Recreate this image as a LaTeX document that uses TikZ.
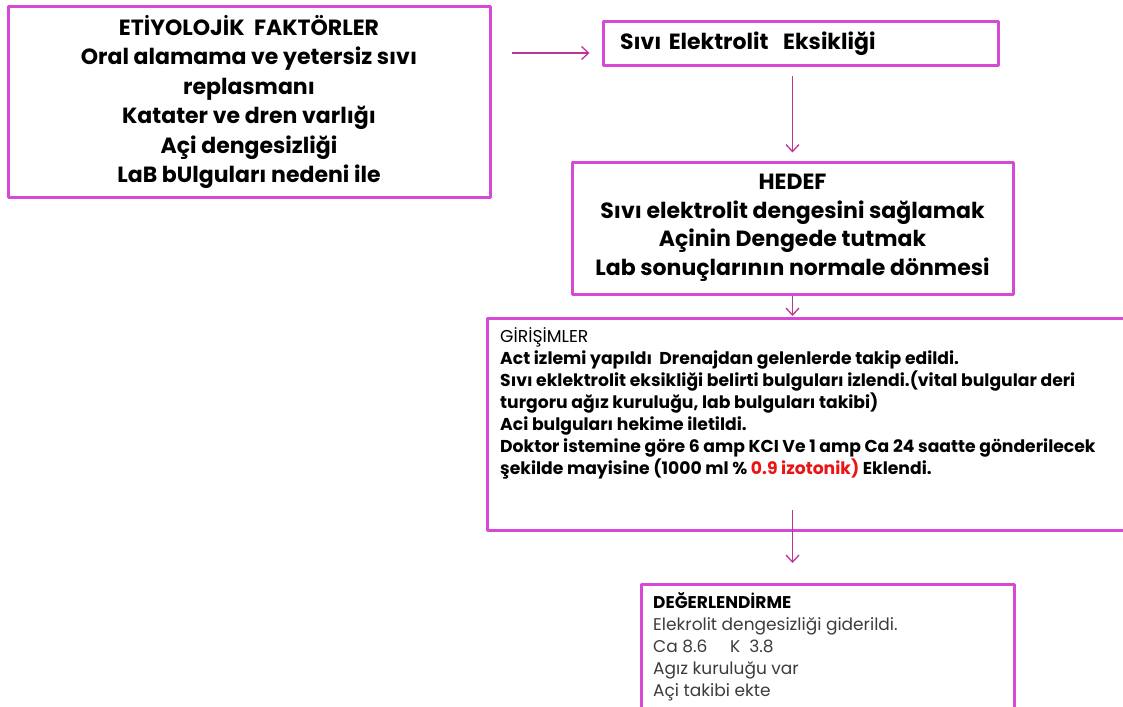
\documentclass[tikz,border=0pt]{standalone}
\usepackage{fontspec}
\setmainfont{Poppins}
\usepackage{tikz}
\usetikzlibrary{arrows.meta,positioning,calc}

\definecolor{framepink}{RGB}{214,72,214}
\definecolor{arrowpink}{RGB}{192,52,150}
\definecolor{notered}{RGB}{235,20,20}
\definecolor{evalgray}{RGB}{60,60,60}

\begin{document}
\begin{tikzpicture}[x=1pt,y=-1pt,>={Straight Barb[length=7pt,width=13pt]},
                    line join=round]
  \tikzstyle{frame}=[draw=framepink,line width=3pt,rectangle,inner sep=0pt]
  \tikzstyle{flow}=[->,draw=arrowpink,line width=1.3pt]
  \tikzstyle{bigtext}=[font=\fontsize{22}{29.5}\selectfont\bfseries]
  \tikzstyle{smalltext}=[font=\fontsize{17.2}{22}\selectfont,inner sep=0pt,align=left,anchor=north west]

  \useasboundingbox (0,0) rectangle (1123,706);

  % etiology box
  \node[frame,bigtext,align=center,minimum width=482pt,minimum height=190pt] (etyo) at (249,102)
    {ET\.IYOLOJ\.IK\ \ FAKTÖRLER\\
     Oral alamama ve yetersiz sıvı\\
     replasmanı\\
     Katater ve dren varlığı\\
     Açi dengesizliği\\
     LaB bUlguları nedeni ile};

  % diagnosis
  \node[frame,bigtext,align=left,text width=361pt,inner xsep=17pt,minimum height=44pt] (tani) at (800.5,44)
    {Sıvı Elektrolit\ \ Eksikliği};

  % goal
  \node[frame,bigtext,align=center,minimum width=441pt,minimum height=132pt,
        font=\fontsize{22}{28.5}\selectfont\bfseries] (hedef) at (792.5,228)
    {HEDEF\\
     Sıvı elektrolit dengesini sağlamak\\
     Açinin Dengede tutmak\\
     Lab sonuçlarının normale dönmesi};

  % interventions
  \node[frame,anchor=north west,minimum width=644pt,minimum height=212pt] (girisim) at (486,317) {};
  \node[smalltext] (girisimtxt) at (500,327)
    {G\.IR\.I\c{S}\.IMLER\\
     \bfseries Act izlemi yapıldı\ \ Drenajdan gelenlerde takip edildi.\\
     \bfseries Sıvı eklektrolit eksikliği belirti bulguları izlendi.(vital bulgular deri\\
     \bfseries turgoru ağız kuruluğu, lab bulguları takibi)\\
     \bfseries Aci bulguları hekime iletildi.\\
     \bfseries Doktor istemine göre 6 amp KCI Ve 1 amp Ca 24 saatte gönderilecek\\
     \bfseries şekilde mayisine (1000 ml \% {\color{notered}0.9 izotonik)} Eklendi.};

  % evaluation
  \node[frame,anchor=north west,minimum width=373pt,minimum height=126pt] (deger) at (640,583) {};
  \node[smalltext,text=evalgray,font=\fontsize{17}{22}\selectfont] (degertxt) at (653,592)
    {{\bfseries\color{black}DEĞERLEND\.IRME}\\
     Elekrolit dengesizliği giderildi.\\
     Ca 8.6\ \ \ \ \ K\ \ 3.8\\
     Agız kuruluğu var\\
     Açi takibi ekte};

  \coordinate (start) at (512,53);
  \draw[flow,shorten >=12pt] (start) -- (start -| tani.west);
  \draw[flow,shorten <=9pt,shorten >=8pt] (hedef.north |- tani.south) -- (hedef.north);
  \draw[flow,shorten >=1pt] (hedef.south) -- (hedef.south |- girisim.north);
  \draw[flow,shorten >=20pt] ([yshift=22pt]girisim.south -| hedef.south) -- (hedef.south |- deger.north);
\end{tikzpicture}
\end{document}
